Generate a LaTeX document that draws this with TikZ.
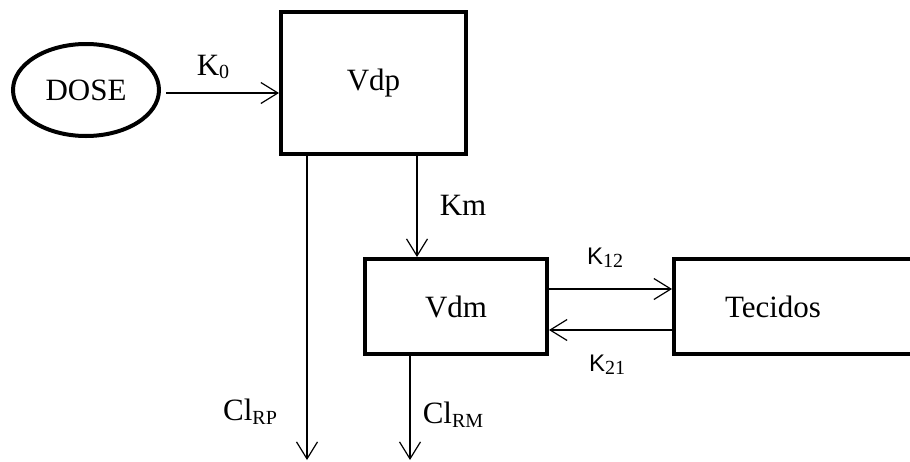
\documentclass[tikz,border=0pt]{standalone}
\usepackage{fontspec}
\setmainfont{Liberation Serif}
\setsansfont{Liberation Sans}
\usetikzlibrary{shapes.geometric,arrows.meta,positioning,calc}
\newcommand{\lowsub}[1]{\raisebox{-0.25ex}{\fontsize{20}{20}\selectfont #1}}

\begin{document}
\begin{tikzpicture}[
  x=1pt,y=-1pt,
  every node/.style={font=\fontsize{31}{36}\selectfont},
  box/.style={draw,line width=4pt,inner sep=0pt},
  doseshape/.style={draw,ellipse,line width=4pt,minimum width=146pt,minimum height=92pt,inner sep=0pt},
  rate/.style={inner sep=0pt},
  arrow/.style={-{Straight Barb[length=17pt,width=21pt]},line width=1.2pt}
]
  \useasboundingbox (0,0) rectangle (910,461);

  \node[doseshape] (dose) at (86,90) {DOSE};
  \node[box,minimum width=185pt,minimum height=142pt] (vdp) at (373.5,83) {Vdp};
  \node[box,minimum width=182pt,minimum height=95pt] (vdm) at (456,306.5) {Vdm};
  \node[box,minimum width=250pt,minimum height=95pt] (tec) at (799,306.5) {};
  \node (tectxt) at (773,306.5) {Tecidos};

  % free ends and line positions
  \coordinate (km) at (417,0);
  \coordinate (clrp) at (307,460);
  \coordinate (clrm) at (410,460);
  \coordinate (up) at (0,289);
  \coordinate (down) at (0,330);

  \draw[arrow] (dose.east |- 0,93) ++(5,0) -- (vdp.west |- 0,93);
  \draw[arrow] (vdp.south -| km) -- (vdm.north -| km);
  \draw[arrow] (vdp.south -| clrp) -- (clrp);
  \draw[arrow] (vdm.south -| clrm) -- (clrm);
  \draw[arrow] (vdm.east |- up) -- (tec.west |- up);
  \draw[arrow] (tec.west |- down) -- (vdm.east |- down);

  \node[rate] (k0) at (213,67) {K\lowsub{0}};
  \node[rate] (kmlab) at (463,205) {Km};
  \node[rate] (k12) at (605,258) {\fontsize{24}{28}\sffamily K\rmfamily\lowsub{12}};
  \node[rate] (k21) at (607,365) {\fontsize{24}{28}\sffamily K\rmfamily\lowsub{21}};
  \node[rate] (clrplab) at (250,412) {Cl\lowsub{RP}};
  \node[rate] (clrmlab) at (453,415) {Cl\lowsub{RM}};
\end{tikzpicture}
\end{document}
